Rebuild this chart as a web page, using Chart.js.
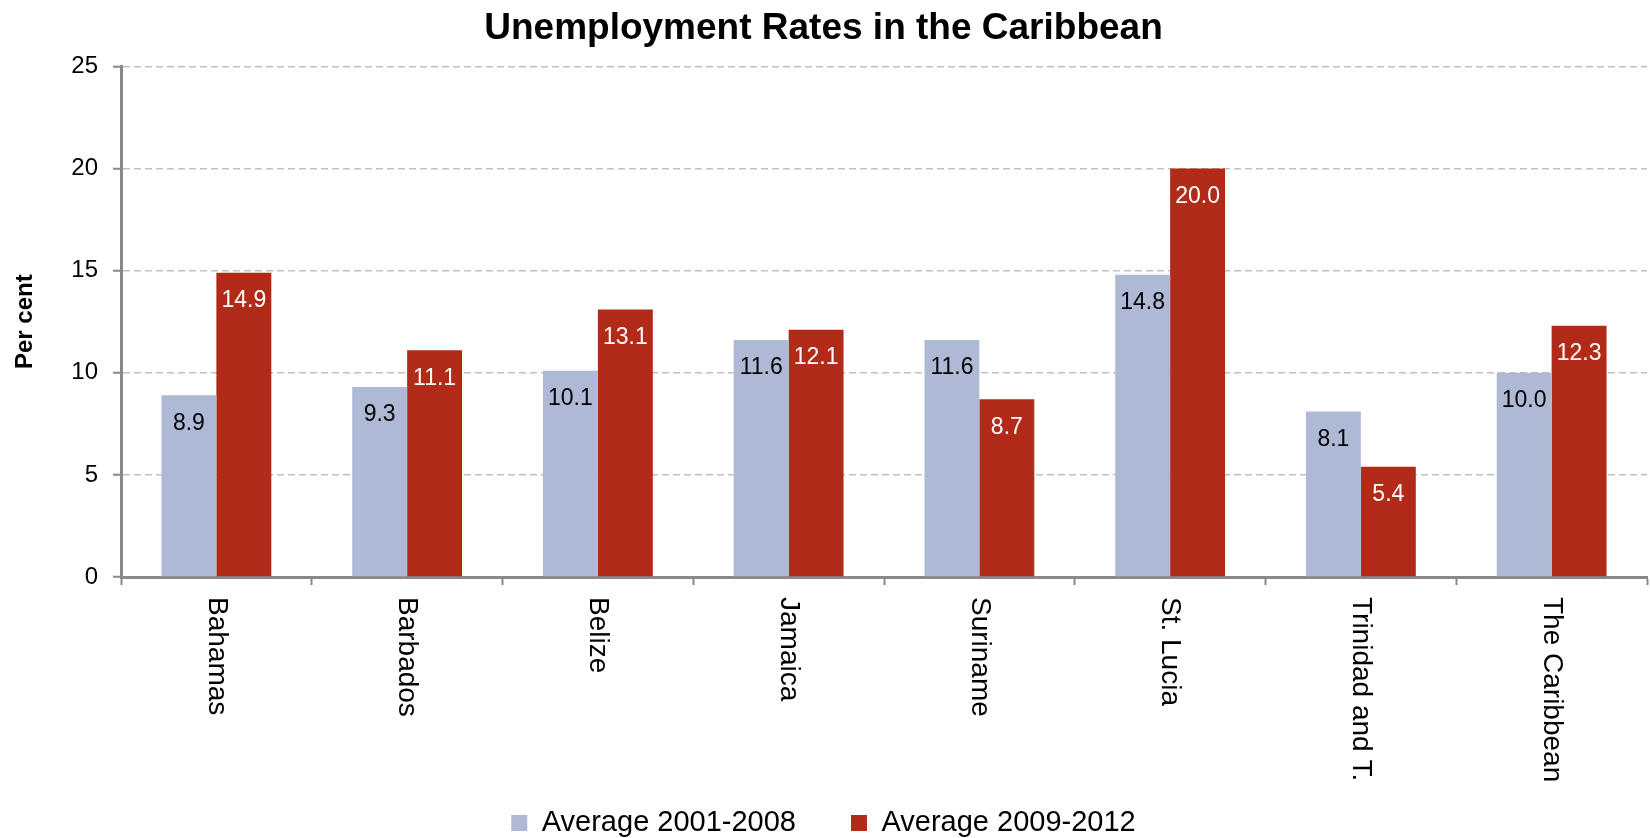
<!DOCTYPE html>
<html>
<head>
<meta charset="utf-8">
<title>Unemployment Rates in the Caribbean</title>
<script src="https://cdn.jsdelivr.net/npm/chart.js@4/dist/chart.umd.min.js"></script>
<style>
  body { margin: 0; background: #fff; }
  #chart { display: block; }
</style>
</head>
<body>
<canvas id="chart" width="1650" height="838"></canvas>
<script>
// Data
const countries = ['Bahamas', 'Barbados', 'Belize', 'Jamaica', 'Suriname', 'St. Lucia', 'Trinidad and T.', 'The Caribbean'];
const avg2001to2008 = [8.9, 9.3, 10.1, 11.6, 11.6, 14.8, 8.1, 10.0];
const avg2009to2012 = [14.9, 11.1, 13.1, 12.1, 8.7, 20.0, 5.4, 12.3];
const seriesNames = ['Average 2001-2008', 'Average 2009-2012'];
const yTicks = [0, 5, 10, 15, 20, 25];

const FONT = '"Liberation Sans", Arial, sans-serif';
const labelColours = ['#000000', '#ffffff'];

// value labels inside the top of each bar
const barValues = {
  id: 'barValues',
  afterDatasetsDraw(chart) {
    const ctx = chart.ctx;
    ctx.save();
    ctx.font = '23px ' + FONT;
    ctx.textAlign = 'center';
    ctx.textBaseline = 'middle';
    chart.data.datasets.forEach((ds, di) => {
      ctx.fillStyle = labelColours[di];
      chart.getDatasetMeta(di).data.forEach((bar, i) => {
        ctx.fillText(ds.data[i].toFixed(1), bar.x, bar.y + 28);
      });
    });
    ctx.restore();
  }
};

// category names turned to read downwards
const downLabels = {
  id: 'downLabels',
  afterDraw(chart) {
    const ctx = chart.ctx;
    const x = chart.scales.x;
    ctx.save();
    ctx.font = '28px ' + FONT;
    ctx.fillStyle = '#000';
    ctx.textAlign = 'left';
    ctx.textBaseline = 'middle';
    countries.forEach((name, i) => {
      ctx.save();
      ctx.translate(x.getPixelForValue(i), x.top + 20);
      ctx.rotate(Math.PI / 2);
      ctx.fillText(name, 0, 0);
      ctx.restore();
    });
    ctx.restore();
  }
};

new Chart(document.getElementById('chart'), {
  type: 'bar',
  data: {
    labels: countries,
    datasets: [
      { label: seriesNames[0], data: avg2001to2008, backgroundColor: '#aeb9d5' },
      { label: seriesNames[1], data: avg2009to2012, backgroundColor: '#b22b18' }
    ]
  },
  options: {
    responsive: false,
    animation: false,
    devicePixelRatio: 1,
    layout: { padding: { left: 0, right: 3, top: 0, bottom: 0 } },
    datasets: { bar: { categoryPercentage: 0.576, barPercentage: 1, borderWidth: 0 } },
    plugins: {
      title: {
        display: true,
        text: 'Unemployment Rates in the Caribbean',
        color: '#000',
        font: { family: FONT, size: 37, weight: 'bold' },
        padding: { top: 7, bottom: 15 }
      },
      legend: {
        position: 'bottom',
        maxHeight: 84.5,
        labels: {
          color: '#000',
          font: { family: FONT, size: 29 },
          boxWidth: 16,
          boxHeight: 16,
          padding: 55
        }
      },
      tooltip: { enabled: false }
    },
    scales: {
      x: {
        grid: { display: true, drawOnChartArea: false, drawTicks: true, tickLength: 8, tickColor: '#898989', tickWidth: 2 },
        border: { color: '#898989', width: 3 },
        ticks: { display: false },
        afterFit(scale) { scale.height = 176.5; }
      },
      y: {
        min: 0,
        max: 25,
        afterBuildTicks(scale) { scale.ticks = yTicks.map(v => ({ value: v })); },
        ticks: { color: '#000', font: { family: FONT, size: 24 }, padding: 15 },
        grid: { color: '#c0c0c0', lineWidth: 1.5, tickLength: 8, tickColor: '#898989', tickWidth: 2, tickBorderDash: [] },
        border: { color: '#898989', width: 3, dash: [7, 4] },
        title: {
          display: true,
          text: 'Per cent',
          color: '#000',
          font: { family: FONT, size: 24, weight: 'bold' },
          padding: { top: 11, bottom: 0 }
        },
        afterFit(scale) { scale.width = 121; }
      }
    }
  },
  plugins: [barValues, downLabels]
});
</script>
</body>
</html>
